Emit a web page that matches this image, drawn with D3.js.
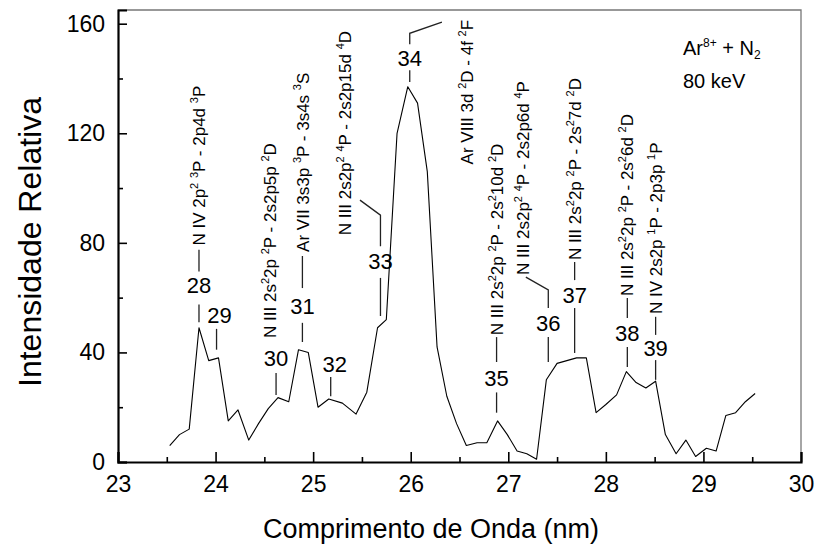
<!DOCTYPE html>
<html>
<head>
<meta charset="utf-8">
<script src="https://cdn.jsdelivr.net/npm/d3@7"></script>
<style>
  body { margin: 0; background: #fff; }
  svg text { font-family: "Liberation Sans", Arial, sans-serif; fill: #000; }
</style>
</head>
<body>
<svg id="chart" width="822" height="555"></svg>
<script>
// spectrum
const wavelength = [23.53, 23.63, 23.73, 23.83, 23.93, 24.03, 24.13, 24.23, 24.34, 24.44,
  24.54, 24.64, 24.75, 24.85, 24.95, 25.05, 25.16, 25.30, 25.44, 25.55,
  25.66, 25.75, 25.86, 25.97, 26.07, 26.17, 26.27, 26.37, 26.47, 26.57,
  26.68, 26.78, 26.89, 26.99, 27.09, 27.19, 27.29, 27.39, 27.50, 27.60,
  27.70, 27.80, 27.90, 28.00, 28.11, 28.21, 28.31, 28.41, 28.51, 28.61,
  28.72, 28.82, 28.92, 29.03, 29.13, 29.23, 29.33, 29.43, 29.53];
const intensity = [6, 10, 12, 49, 37, 38, 15, 19, 8, 14,
  19.5, 23.5, 22, 41, 40, 20, 23, 21.5, 17.5, 25.5,
  49, 52, 120, 137, 131, 106, 42, 24, 14, 6,
  7, 7, 15, 10, 4, 3, 1, 30, 36, 37,
  38, 38, 18, 21, 24.5, 33, 29, 27, 29.5, 10,
  3, 8, 2, 5, 4, 17, 18, 22, 25];

const xTicks = [23, 24, 25, 26, 27, 28, 29, 30];
const xMinor = [23.5, 24.5, 25.5, 26.5, 27.5, 28.5, 29.5];
const yTicks = [0, 40, 80, 120, 160];
const yMinor = [20, 60, 100, 140];

// identified lines
const lineIds = [28, 29, 30, 31, 32, 33, 34, 35, 36, 37, 38, 39];
const lineWl = [23.83, 24.01, 24.62, 24.89, 25.18, 25.69, 25.99, 26.88, 27.41, 27.68, 28.22, 28.51];
const lineLabels = [
  'N IV 2p^2 ^3P - 2p4d ^3P',
  '',
  'N III 2s^22p ^2P - 2s2p5p ^2D',
  'Ar VII 3s3p ^3P - 3s4s ^3S',
  '',
  'N III 2s2p^2 ^4P - 2s2p15d ^4D',
  'Ar VIII 3d ^2D - 4f ^2F',
  'N III 2s^22p ^2P - 2s^210d ^2D',
  'N III 2s2p^2 ^4P - 2s2p6d ^4P',
  'N III 2s^22p ^2P - 2s^27d ^2D',
  'N III 2s^22p ^2P - 2s^26d ^2D',
  'N IV 2s2p ^1P - 2p3p ^1P'
];

// where the leader pieces sit (intensity units), one entry per line id
const annLayout = [
  {low: [51, 57.5], num: 64.5, up: [69.5, 77.5], text: [23.83, 79]},
  {low: [41, 48.6], num: 53.7, dx: 3},
  {low: [24.5, 32.5], num: 38, text: [24.56, 45.3]},
  {low: [43.8, 50.8], num: 57, up: [63.5, 75.2], text: [24.89, 76.7]},
  {low: [24, 31], num: 35.8, dx: 4},
  {low: [53.3, 67.2], num: 73.4, up: [78.8, 90.1], bend: [25.48, 95.6], text: [25.33, 82.8]},
  {low: [138.7, 143], num: 147.4, up: [152.5, 156.5], bend: [26.32, 160.6], text: [26.58, 161.4], anchor: 'end'},
  {low: [18, 25.4], num: 30.7, up: [36.5, 45.6], text: [26.88, 46.3]},
  {low: [36.5, 45.6], num: 50.7, up: [56.2, 62.8], bend: [27.18, 67.5], text: [27.15, 68.3]},
  {low: [39.8, 56.2], num: 60.9, up: [66.4, 73], text: [27.68, 73.7]},
  {low: [34.7, 42], num: 47.1, up: [52.6, 59.9], text: [28.22, 60.6]},
  {low: [30, 37.2], num: 41.6, up: [46.4, 53], text: [28.51, 54]}
];

const svg = d3.select('#chart');
const margin = {left: 118, right: 21, top: 10, bottom: 93};
const W = 822, H = 555;

const x = d3.scaleLinear().domain([23, 30]).range([margin.left, W - margin.right]);
const y = d3.scaleLinear().domain([0, 165]).range([H - margin.bottom, margin.top]);

// thin frame on top / right
svg.append('path')
  .attr('d', `M${x(23)},${y(165)}H${x(30)}V${y(0)}`)
  .attr('fill', 'none')
  .attr('stroke', '#777')
  .attr('stroke-width', 1.3);

// axes, ticks pointing inwards
const gx = svg.append('g').attr('transform', `translate(0,${y(0)})`);
gx.call(d3.axisBottom(x).tickValues(xTicks).tickSize(-10).tickPadding(14).tickFormat(d3.format('d')));
const gxm = svg.append('g').attr('transform', `translate(0,${y(0)})`);
gxm.call(d3.axisBottom(x).tickValues(xMinor).tickSize(-5).tickFormat(''));

const gy = svg.append('g').attr('transform', `translate(${x(23)},0)`);
gy.call(d3.axisLeft(y).tickValues(yTicks).tickSize(-9).tickPadding(13).tickFormat(d3.format('d')));
const gym = svg.append('g').attr('transform', `translate(${x(23)},0)`);
gym.call(d3.axisLeft(y).tickValues(yMinor).tickSize(-5).tickFormat(''));

svg.selectAll('.domain').attr('stroke', '#000').attr('stroke-width', 2.2);
gxm.select('.domain').remove();
gym.select('.domain').remove();
svg.selectAll('.tick line').attr('stroke', '#000').attr('stroke-width', 1.6);
svg.selectAll('.tick text')
  .style('font-size', '23px')
  .style('font-family', '"Liberation Sans", Arial, sans-serif')
  .attr('fill', '#000');

// the spectrum
const line = d3.line().x((d, i) => x(wavelength[i])).y(d => y(d));
svg.append('path')
  .datum(intensity)
  .attr('d', line)
  .attr('fill', 'none')
  .attr('stroke', '#000')
  .attr('stroke-width', 1.1)
  .attr('stroke-linejoin', 'round');

// write a label with ^x (or ^{xy}) superscripts and _x subscripts into a text element
function richText(sel, str, fs) {
  let parts = [];
  let i = 0, buf = '';
  while (i < str.length) {
    let c = str[i];
    if (c == '^' || c == '_') {
      if (buf) parts.push({t: buf, k: 0});
      buf = '';
      let s;
      if (str[i + 1] == '{') {
        let j = str.indexOf('}', i);
        s = str.slice(i + 2, j);
        i = j + 1;
      } else {
        s = str[i + 1];
        i += 2;
      }
      parts.push({t: s, k: c == '^' ? 1 : -1});
    } else {
      buf += c;
      i++;
    }
  }
  if (buf) parts.push({t: buf, k: 0});
  let shift = 0;
  let small = Math.round(fs * 0.62);
  parts.forEach(p => {
    let target = p.k == 1 ? -fs * 0.42 : p.k == -1 ? fs * 0.22 : 0;
    sel.append('tspan')
      .attr('dy', target - shift)
      .style('font-size', (p.k ? small : fs) + 'px')
      .text(p.t);
    shift = target;
  });
}

const annFs = 17;
const ann = svg.append('g').attr('class', 'annotations');
lineIds.forEach((id, i) => {
  let lay = annLayout[i];
  let lx = x(lineWl[i]);
  let g = ann.append('g');
  g.append('line')
    .attr('x1', lx).attr('x2', lx)
    .attr('y1', y(lay.low[0])).attr('y2', y(lay.low[1]))
    .attr('stroke', '#222').attr('stroke-width', 1.3);
  g.append('text')
    .attr('x', lx + (lay.dx || 0))
    .attr('y', y(lay.num))
    .attr('dy', '0.36em')
    .attr('text-anchor', 'middle')
    .style('font-size', '22px')
    .text(id);
  if (lay.up) {
    let pts = [[lx, y(lay.up[0])], [lx, y(lay.up[1])]];
    if (lay.bend) pts.push([x(lay.bend[0]), y(lay.bend[1])]);
    g.append('path')
      .attr('d', d3.line()(pts))
      .attr('fill', 'none')
      .attr('stroke', '#222').attr('stroke-width', 1.3);
  }
  if (lay.text && lineLabels[i]) {
    let tx = x(lay.text[0]) + annFs * 0.36;
    let ty = y(lay.text[1]);
    let t = g.append('text')
      .attr('transform', `translate(${tx},${ty}) rotate(-90)`)
      .attr('text-anchor', lay.anchor || 'start')
      .style('font-size', annFs + 'px');
    richText(t, lineLabels[i], annFs);
  }
});

// collision system / energy
const info = svg.append('g').attr('transform', 'translate(683,55)');
richText(info.append('text'), 'Ar^{8+} + N_2', 20);
info.append('text').attr('y', 33).style('font-size', '20px').text('80 keV');

// axis titles
svg.append('text')
  .attr('x', 431).attr('y', 528)
  .attr('dy', '0.36em')
  .attr('text-anchor', 'middle')
  .style('font-size', '27px')
  .text('Comprimento de Onda (nm)');

svg.append('text')
  .attr('transform', `translate(29,242) rotate(-90)`)
  .attr('dy', '0.36em')
  .attr('text-anchor', 'middle')
  .style('font-size', '32px')
  .text('Intensidade Relativa');
</script>
</body>
</html>
